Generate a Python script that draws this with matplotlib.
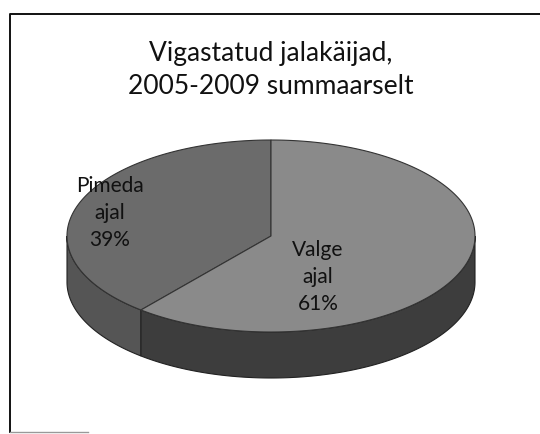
import numpy as np
import matplotlib.pyplot as plt
from matplotlib.patches import Polygon

# Data
labels = ['Pimeda\najal', 'Valge\najal']
shares = [39, 61]
title = 'Vigastatud jalakäijad,\n2005-2009 summaarselt'

# Colours (grey scan)
top_colors = ['#6b6b6b', '#8a8a8a']
side_colors = ['#555555', '#3d3d3d']

# Pie geometry in pixel units
cx, cy = 271, 236
rx, ry = 204, 96
depth = 46

fig = plt.figure(figsize=(5.4, 4.34), dpi=100)
ax = fig.add_axes([0, 0, 1, 1])
ax.set_xlim(0, 540)
ax.set_ylim(434, 0)
ax.axis('off')

# frame of the chart area
ax.plot([10, 10, 540], [432, 14, 14], color='#111111', lw=1.4)
ax.plot([10, 88], [432, 432], color='#999999', lw=1)

def rim(t, dz=0):
    return cx + rx * np.cos(t), cy - ry * np.sin(t) + dz

# slice angles: start at 12 o'clock, counterclockwise
total = sum(shares)
starts = []
a = np.pi / 2
for s in shares:
    starts.append((a, a + 2 * np.pi * s / total))
    a += 2 * np.pi * s / total

# side walls (front half only: angles pi..2pi)
for (t0, t1), col in zip(starts, side_colors):
    lo = max(t0, np.pi)
    hi = min(t1, 2 * np.pi)
    if hi <= lo:
        continue
    t = np.linspace(lo, hi, 200)
    xt, yt = rim(t)
    xb, yb = rim(t[::-1], depth)
    pts = np.column_stack([np.concatenate([xt, xb]), np.concatenate([yt, yb])])
    ax.add_patch(Polygon(pts, closed=True, fc=col, ec='#222222', lw=0.8))

# top faces
for (t0, t1), col in zip(starts, top_colors):
    t = np.linspace(t0, t1, 300)
    xt, yt = rim(t)
    pts = np.column_stack([np.concatenate([[cx], xt]), np.concatenate([[cy], yt])])
    ax.add_patch(Polygon(pts, closed=True, fc=col, ec='#333333', lw=0.8))

# labels
label_pos = [(110, 213), (318, 277)]
for lab, s, (lx, ly) in zip(labels, shares, label_pos):
    ax.text(lx, ly, f'{lab}\n{s}%', ha='center', va='center', fontsize=15,
            family='Lato', color='#111111', linespacing=1.45)

ax.text(271, 70, title, ha='center', va='center', fontsize=19,
        family='Lato', color='#111111', linespacing=1.4)

fig.savefig('out.png', dpi=100, facecolor='white')
